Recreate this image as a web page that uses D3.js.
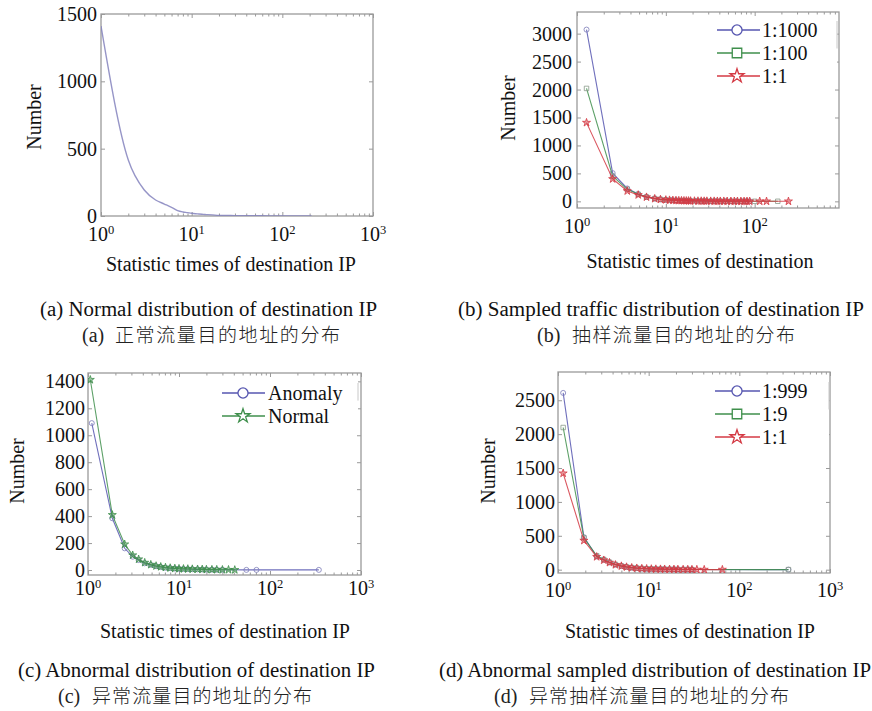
<!DOCTYPE html>
<html>
<head>
<meta charset="utf-8">
<script src="https://cdn.jsdelivr.net/npm/d3@7"></script>
<style>
  html, body { margin: 0; padding: 0; background: #fff; }
  svg { display: block; }
</style>
</head>
<body>
<svg id="chart" width="872" height="711"></svg>
<script>
// ---------------- DATA ----------------
// Panel (a): normal distribution of destination IP
const aX = [1, 2, 3, 4, 5, 6, 7, 8, 9, 10, 11, 12, 13, 14, 15, 17, 20, 25, 30, 40, 50, 70, 100, 150, 210];
const aY = [1410, 416, 193, 119, 89, 64, 40, 30, 25, 20, 17, 15, 13, 11, 10, 8, 5, 4, 3, 2, 2, 1, 1, 1, 1];

// Panel (b): sampled traffic distribution
const bX1000 = [1.28, 2.52, 3.68, 4.89, 6.06, 7.5, 8.7, 10, 11.5, 13, 15, 17, 19, 22, 25, 28, 32, 36, 41, 47, 54, 62, 71, 80, 88];
const bY1000 = [3072, 505, 230, 130, 80, 50, 36, 28, 22, 18, 14, 11, 9, 7, 6, 5, 4, 3, 3, 2, 2, 1, 1, 1, 1];
const bX100 = [1.28, 2.52, 3.68, 4.89, 6.06, 7.5, 8.7, 10, 11.5, 13, 15, 17, 19, 22, 25, 28, 32, 36, 41, 47, 54, 62, 71, 80, 100, 182];
const bY100 = [2020, 450, 215, 125, 78, 50, 35, 27, 21, 17, 13, 10, 8, 7, 6, 5, 4, 3, 3, 2, 2, 1, 1, 1, 1, 1];
const bX1 = [1.28, 2.52, 3.68, 4.89, 6.06, 7.5, 8.7, 10, 11, 12, 13, 14, 15, 16, 17, 18, 19, 21, 23, 25, 27, 29, 32, 35, 38, 41, 45, 49, 54, 59, 64, 70, 76, 82, 88, 114, 136, 240];
const bY1 = [1408, 400, 185, 115, 75, 48, 34, 26, 22, 19, 16, 14, 13, 11, 10, 9, 8, 7, 6, 6, 5, 5, 4, 4, 3, 3, 3, 2, 2, 2, 2, 1, 1, 1, 1, 1, 1, 1];

// Panel (c): abnormal distribution
const cXAnom = [1.1, 1.85, 2.53, 3.1, 3.6, 4.2, 4.9, 5.6, 6.3, 7.1, 8, 9, 10, 11.2, 12.5, 14, 16, 18, 20, 23, 26, 30, 55, 71, 344];
const cYAnom = [1090, 384, 161, 99, 74, 50, 38, 28, 22, 17, 14, 11, 9, 8, 7, 6, 5, 4, 3, 3, 2, 2, 1, 1, 1];
const cXNorm = [1.06, 1.85, 2.53, 3.1, 3.6, 4.2, 4.9, 5.6, 6.3, 7.1, 8, 9, 10, 11.2, 12.5, 14, 16, 18, 20, 23, 26, 30, 35, 41];
const cYNorm = [1412, 409, 191, 110, 80, 55, 40, 30, 24, 19, 15, 12, 10, 9, 8, 7, 6, 5, 4, 3, 3, 2, 2, 1];

// Panel (d): abnormal sampled distribution
const dX999 = [1.14, 1.93, 2.67, 3.2, 3.7, 4.3, 5, 5.7, 6.5, 7.4, 8.4, 9.5, 10.7, 12, 13.5, 15, 17, 19, 21, 24, 27, 30, 348];
const dY999 = [2608, 480, 196, 147, 108, 75, 55, 40, 30, 23, 18, 14, 11, 9, 8, 7, 6, 5, 4, 3, 3, 2, 1];
const dX9 = [1.14, 1.93, 2.67, 3.2, 3.7, 4.3, 5, 5.7, 6.5, 7.4, 8.4, 9.5, 10.7, 12, 13.5, 15, 17, 19, 21, 24, 27, 30, 348];
const dY9 = [2098, 470, 205, 150, 110, 77, 56, 41, 31, 24, 18, 14, 12, 10, 8, 7, 6, 5, 4, 3, 3, 2, 1];
const dX1 = [1.14, 1.93, 2.67, 3.2, 3.7, 4.3, 5, 5.7, 6.5, 7.4, 8.4, 9.5, 10.7, 12, 13.5, 15, 17, 19, 21, 24, 27, 30, 34, 41, 65];
const dY1 = [1422, 430, 190, 140, 104, 72, 53, 39, 29, 22, 17, 14, 11, 9, 8, 7, 6, 5, 4, 3, 3, 2, 2, 1, 1];

// Tick values
const yTicksA = [0, 500, 1000, 1500];
const yTicksB = [0, 500, 1000, 1500, 2000, 2500, 3000];
const yTicksC = [0, 200, 400, 600, 800, 1000, 1200, 1400];
const yTicksD = [0, 500, 1000, 1500, 2000, 2500];
const xTicks3 = [1, 10, 100, 1000];
const xTicks2 = [1, 10, 100];

// Labels
const legendB = ["1:1000", "1:100", "1:1"];
const legendC = ["Anomaly", "Normal"];
const legendD = ["1:999", "1:9", "1:1"];
const xTitleFull = "Statistic times of destination IP";
const xTitleShort = "Statistic times of destination";
const yTitle = "Number";
const capEn = ["(a) Normal distribution of destination IP", "(b) Sampled traffic distribution of destination IP",
               "(c) Abnormal distribution of destination IP", "(d) Abnormal sampled distribution of destination IP"];
const capZhPrefix = ["(a)", "(b)", "(c)", "(d)"];
const capZh = ["正常流量目的地址的分布", "抽样流量目的地址的分布", "异常流量目的地址的分布", "异常抽样流量目的地址的分布"];

// ---------------- DRAWING ----------------
const svg = d3.select("#chart");
const SERIF = "'Liberation Serif', 'Times New Roman', serif";
const CJK = "'Noto Sans CJK SC', 'Noto Sans CJK TC', sans-serif";
const BLUE = "#5656b0", GREEN = "#3f8f4c", RED = "#d43a44";
const FRAME = "#9a9a9a";

const zip = (xs, ys) => xs.map((v, i) => [v, ys[i]]);

function symbolPath(type, size) {
  const t = type === "circle" ? d3.symbolCircle : type === "square" ? d3.symbolSquare : d3.symbolStar;
  return d3.symbol().type(t).size(size)();
}

function panel(cfg) {
  const g = svg.append("g");
  const x = d3.scaleLog().domain(cfg.xDomain).range([cfg.x0, cfg.x1]);
  const y = d3.scaleLinear().domain(cfg.yDomain).range([cfg.y1, cfg.y0]);

  g.append("rect").attr("x", cfg.x0).attr("y", cfg.y0)
    .attr("width", cfg.x1 - cfg.x0).attr("height", cfg.y1 - cfg.y0)
    .attr("fill", "#fff").attr("stroke", FRAME).attr("stroke-width", 1.3);

  const minor = x.ticks().filter(v => cfg.xTicks.indexOf(v) < 0 && v > cfg.xDomain[0] && v < cfg.xDomain[1]);

  function styleAxis(sel) {
    sel.select(".domain").remove();
    sel.selectAll("line").attr("stroke", FRAME).attr("stroke-width", 1);
    sel.selectAll("text").remove();
  }
  g.append("g").attr("transform", `translate(0,${cfg.y1})`)
    .call(d3.axisBottom(x).tickValues(cfg.xTicks).tickSize(-4)).call(styleAxis);
  g.append("g").attr("transform", `translate(0,${cfg.y1})`)
    .call(d3.axisBottom(x).tickValues(minor).tickSize(-2.5)).call(styleAxis);
  g.append("g").attr("transform", `translate(0,${cfg.y0})`)
    .call(d3.axisTop(x).tickValues(cfg.xTicks).tickSize(-4)).call(styleAxis);
  g.append("g").attr("transform", `translate(0,${cfg.y0})`)
    .call(d3.axisTop(x).tickValues(minor).tickSize(-2.5)).call(styleAxis);
  g.append("g").attr("transform", `translate(${cfg.x0},0)`)
    .call(d3.axisLeft(y).tickValues(cfg.yTicks).tickSize(-4)).call(styleAxis);
  g.append("g").attr("transform", `translate(${cfg.x1},0)`)
    .call(d3.axisRight(y).tickValues(cfg.yTicks).tickSize(-4)).call(styleAxis);

  g.selectAll(".ylab").data(cfg.yTicks).enter().append("text")
    .attr("x", cfg.x0 - cfg.yLabGap).attr("y", d => y(d)).attr("dy", "0.35em")
    .attr("text-anchor", "end").attr("font-family", SERIF).attr("font-size", 20)
    .attr("fill", "#111").text(d => d);

  const xl = g.selectAll(".xlab").data(cfg.xTicks).enter().append("text")
    .attr("x", d => x(d)).attr("y", cfg.y1 + cfg.xLabGap)
    .attr("text-anchor", "middle").attr("font-family", SERIF).attr("font-size", 20).attr("fill", "#111");
  xl.append("tspan").text("10");
  xl.append("tspan").attr("dy", -7).attr("font-size", 12.5).text(d => Math.round(Math.log10(d)));

  g.append("text").attr("x", cfg.xTitle[0]).attr("y", cfg.xTitle[1])
    .attr("text-anchor", "middle").attr("font-family", SERIF).attr("font-size", 20)
    .attr("fill", "#111").text(cfg.xTitleText);
  g.append("text").attr("transform", `translate(${cfg.yTitle[0]},${cfg.yTitle[1]}) rotate(-90)`)
    .attr("dy", "0.35em").attr("text-anchor", "middle").attr("font-family", SERIF)
    .attr("font-size", 20).attr("fill", "#111").text(yTitle);

  const clip = "clip" + cfg.id;
  g.append("clipPath").attr("id", clip).append("rect")
    .attr("x", cfg.x0).attr("y", cfg.y0).attr("width", cfg.x1 - cfg.x0).attr("height", cfg.y1 - cfg.y0);
  const sg = g.append("g").attr("clip-path", `url(#${clip})`);
  const line = d3.line().curve(cfg.smooth ? d3.curveMonotoneX : d3.curveLinear)
    .x(d => x(d[0])).y(d => y(d[1]));
  cfg.series.forEach(s => {
    const pts = zip(s.x, s.y);
    sg.append("path").attr("d", line(pts)).attr("fill", "none")
      .attr("stroke", s.color).attr("stroke-width", s.width || 1.1).attr("stroke-opacity", 0.85);
    if (s.marker) {
      sg.selectAll(null).data(pts).enter().append("path")
        .attr("transform", d => `translate(${x(d[0])},${y(d[1])})`)
        .attr("d", symbolPath(s.marker, 20))
        .attr("fill", s.marker === "star" ? s.color : "none")
        .attr("fill-opacity", 0.5)
        .attr("stroke", s.mcolor || s.color).attr("stroke-width", 1).attr("stroke-opacity", 0.8);
    }
  });

  if (cfg.legend) {
    const L = cfg.legend;
    g.append("rect").attr("x", L.box[0]).attr("y", L.box[1]).attr("width", L.box[2]).attr("height", L.box[3])
      .attr("fill", "#fff").attr("stroke", "none");
    g.append("line").attr("x1", L.box[0] + L.box[2]).attr("x2", L.box[0] + L.box[2])
      .attr("y1", L.box[1] + 4).attr("y2", L.box[1] + L.box[3] * 0.45)
      .attr("stroke", "#c8c8c8").attr("stroke-width", 1);
    L.labels.forEach((lab, i) => {
      const s = cfg.series[L.order[i]];
      const yy = L.ys[i];
      g.append("line").attr("x1", L.x1).attr("x2", L.x2).attr("y1", yy).attr("y2", yy)
        .attr("stroke", s.color).attr("stroke-width", 1.3);
      g.append("path").attr("transform", `translate(${L.mx},${yy})`)
        .attr("d", symbolPath(s.marker, s.marker === "square" ? 90 : s.marker === "star" ? 60 : 80))
        .attr("fill", "#fff").attr("stroke", s.color).attr("stroke-width", 1.3);
      g.append("text").attr("x", L.tx).attr("y", yy).attr("dy", "0.35em")
        .attr("font-family", SERIF).attr("font-size", 20).attr("fill", "#111").text(lab);
    });
  }
}

panel({
  id: "a", x0: 101, x1: 373, y0: 14, y1: 216, xDomain: [1, 1000], yDomain: [0, 1500],
  xTicks: xTicks3, yTicks: yTicksA, yLabGap: 4, xLabGap: 25, smooth: true,
  xTitle: [231, 271], xTitleText: xTitleFull, yTitle: [34, 117],
  series: [{ x: aX, y: aY, color: "#8482bd", width: 1.4 }]
});

panel({
  id: "b", x0: 577, x1: 839, y0: 12, y1: 208, xDomain: [1, 890], yDomain: [-119, 3387],
  xTicks: xTicks2, yTicks: yTicksB, yLabGap: 5, xLabGap: 25,
  xTitle: [700, 268], xTitleText: xTitleShort, yTitle: [508, 108],
  series: [
    { x: bX1000, y: bY1000, color: BLUE, marker: "circle", mcolor: "#7c7cb8" },
    { x: bX100, y: bY100, color: GREEN, marker: "square", mcolor: "#8a9a8a" },
    { x: bX1, y: bY1, color: RED, marker: "star" }
  ],
  legend: { box: [712, 17, 125, 70], labels: legendB, order: [0, 1, 2], ys: [30, 53, 76], x1: 717, x2: 760, mx: 737, tx: 762 }
});

panel({
  id: "c", x0: 88, x1: 361, y0: 373, y1: 575, xDomain: [1, 1000], yDomain: [-37, 1462],
  xTicks: xTicks3, yTicks: yTicksC, yLabGap: 3, xLabGap: 20,
  xTitle: [225, 638], xTitleText: xTitleFull, yTitle: [17, 471],
  series: [
    { x: cXAnom, y: cYAnom, color: BLUE, marker: "circle", mcolor: "#7c7cb8" },
    { x: cXNorm, y: cYNorm, color: GREEN, marker: "star" }
  ],
  legend: { box: [218, 379, 140, 48], labels: legendC, order: [0, 1], ys: [393, 416], x1: 222, x2: 265, mx: 243, tx: 268 }
});

panel({
  id: "d", x0: 558, x1: 830, y0: 372, y1: 573, xDomain: [1, 1000], yDomain: [-49, 2917],
  xTicks: xTicks3, yTicks: yTicksD, yLabGap: 3, xLabGap: 24,
  xTitle: [690, 638], xTitleText: xTitleFull, yTitle: [488, 471],
  series: [
    { x: dX999, y: dY999, color: BLUE, marker: "circle", mcolor: "#7c7cb8" },
    { x: dX9, y: dY9, color: GREEN, marker: "square", mcolor: "#8a9a8a" },
    { x: dX1, y: dY1, color: RED, marker: "star" }
  ],
  legend: { box: [711, 378, 118, 70], labels: legendD, order: [0, 1, 2], ys: [391, 414, 437], x1: 715, x2: 760, mx: 737, tx: 762 }
});

// captions
const capEnPos = [[40, 377, 316], [458, 864, 316], [18, 375, 677], [439, 871, 677]];
// [prefix start, CJK start, CJK end, baseline]
const capZhPos = [[82, 115, 340, 342], [537, 572, 795, 342], [58, 92, 312, 703], [494, 529, 789, 703]];
capEn.forEach((t, i) => {
  const p = capEnPos[i];
  svg.append("text").attr("x", p[0]).attr("y", p[2])
    .attr("font-family", SERIF).attr("font-size", 20).attr("fill", "#111")
    .attr("textLength", p[1] - p[0]).attr("lengthAdjust", "spacingAndGlyphs").text(t);
});
capZh.forEach((t, i) => {
  const p = capZhPos[i];
  svg.append("text").attr("x", p[0]).attr("y", p[3]).attr("fill", "#222")
    .attr("font-family", SERIF).attr("font-size", 20).text(capZhPrefix[i]);
  svg.append("text").attr("x", p[1]).attr("y", p[3]).attr("fill", "#222")
    .attr("font-family", CJK).attr("font-weight", 300).attr("font-size", 19)
    .attr("textLength", p[2] - p[1]).attr("lengthAdjust", "spacing").text(t);
});
</script>
</body>
</html>
